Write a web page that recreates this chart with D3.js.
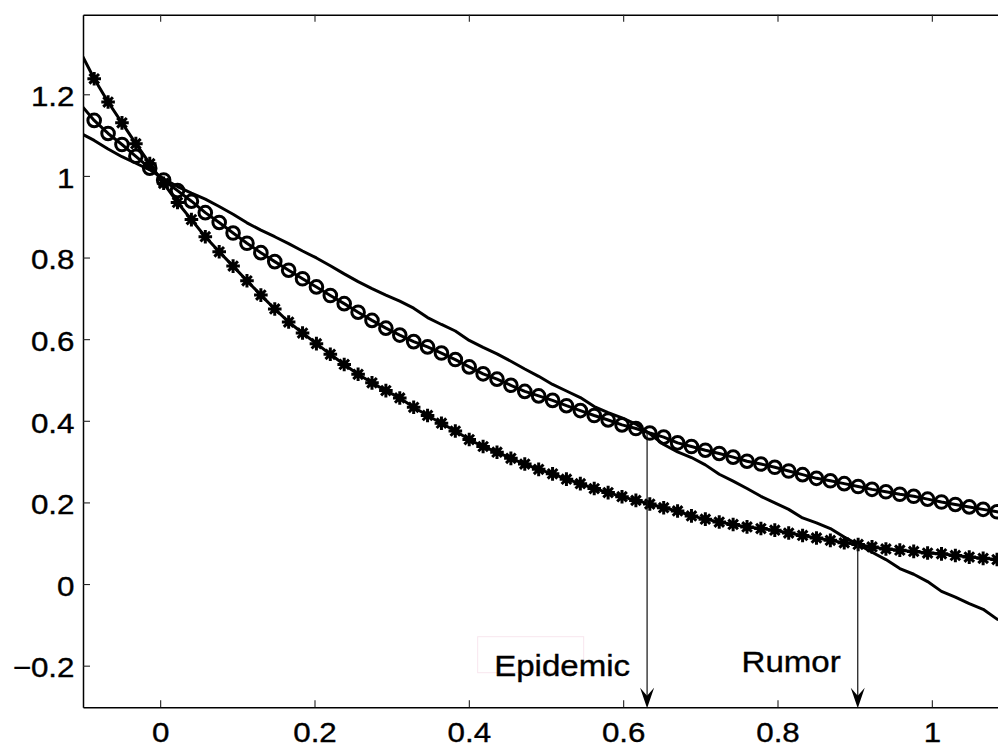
<!DOCTYPE html>
<html>
<head>
<meta charset="utf-8">
<script src="https://cdn.jsdelivr.net/npm/d3@7"></script>
<style>
  html, body { margin: 0; padding: 0; background: #fff; }
  svg { display: block; }
  .lbl {
    font-family: "Liberation Sans", Arial, Helvetica, sans-serif;
    fill: #000;
    stroke: #000;
    stroke-width: 0.35px;
    transform-box: fill-box;
  }
</style>
</head>
<body>
<svg id="chart" width="998" height="746"></svg>
<script>
// Sample positions shared by the three curves
const xValues = [
  -0.1035, -0.0855, -0.0675, -0.0495, -0.0315, -0.0135, 0.0045, 0.0225, 0.0405, 0.0585,
  0.0765, 0.0945, 0.1125, 0.1305, 0.1485, 0.1665, 0.1845, 0.2025, 0.2205, 0.2385,
  0.2565, 0.2745, 0.2925, 0.3105, 0.3285, 0.3465, 0.3645, 0.3825, 0.4005, 0.4185,
  0.4365, 0.4545, 0.4725, 0.4905, 0.5085, 0.5265, 0.5445, 0.5625, 0.5805, 0.5985,
  0.6165, 0.6345, 0.6525, 0.6705, 0.6885, 0.7065, 0.7245, 0.7425, 0.7605, 0.7785,
  0.7965, 0.8145, 0.8325, 0.8505, 0.8685, 0.8865, 0.9045, 0.9225, 0.9405, 0.9585,
  0.9765, 0.9945, 1.0125, 1.0305, 1.0485, 1.0665, 1.0845, 1.1025
];

// Plain solid curve
const solidValues = [
  1.105, 1.087, 1.066, 1.047, 1.031, 1.015, 0.993, 0.974, 0.958, 0.943,
  0.925, 0.906, 0.885, 0.867, 0.851, 0.834, 0.816, 0.799, 0.780, 0.760,
  0.741, 0.724, 0.708, 0.693, 0.676, 0.653, 0.636, 0.620, 0.597, 0.580,
  0.564, 0.546, 0.527, 0.509, 0.489, 0.473, 0.457, 0.435, 0.420, 0.407,
  0.392, 0.368, 0.342, 0.324, 0.310, 0.292, 0.269, 0.252, 0.234, 0.215,
  0.199, 0.183, 0.162, 0.150, 0.136, 0.115, 0.097, 0.078, 0.060, 0.038,
  0.024, 0.006, -0.018, -0.032, -0.048, -0.062, -0.086, -0.096
];

// Curve drawn with open circle markers
const circleValues = [
  1.176, 1.136, 1.104, 1.077, 1.048, 1.019, 0.990, 0.964, 0.938, 0.910,
  0.886, 0.860, 0.835, 0.812, 0.790, 0.769, 0.748, 0.728, 0.707, 0.687,
  0.666, 0.646, 0.627, 0.610, 0.594, 0.581, 0.566, 0.550, 0.532, 0.515,
  0.502, 0.487, 0.472, 0.461, 0.450, 0.437, 0.425, 0.413, 0.402, 0.390,
  0.381, 0.370, 0.360, 0.346, 0.337, 0.328, 0.320, 0.311, 0.301, 0.294,
  0.286, 0.277, 0.268, 0.259, 0.253, 0.246, 0.239, 0.232, 0.226, 0.220,
  0.215, 0.208, 0.201, 0.195, 0.189, 0.183, 0.177, 0.171
];

// Curve drawn with asterisk markers
const starValues = [
  1.304, 1.238, 1.181, 1.130, 1.079, 1.030, 0.982, 0.935, 0.893, 0.851,
  0.814, 0.779, 0.743, 0.708, 0.674, 0.642, 0.615, 0.589, 0.563, 0.538,
  0.514, 0.493, 0.474, 0.456, 0.433, 0.413, 0.394, 0.375, 0.354, 0.337,
  0.323, 0.308, 0.294, 0.281, 0.270, 0.257, 0.246, 0.234, 0.224, 0.214,
  0.205, 0.196, 0.187, 0.179, 0.167, 0.159, 0.152, 0.146, 0.140, 0.136,
  0.132, 0.125, 0.119, 0.113, 0.107, 0.101, 0.097, 0.091, 0.086, 0.083,
  0.080, 0.076, 0.074, 0.070, 0.066, 0.063, 0.060, 0.057
];

const xTicks = [0, 0.2, 0.4, 0.6, 0.8, 1];
const xTickLabels = ["0", "0.2", "0.4", "0.6", "0.8", "1"];
const yTicks = [-0.2, 0, 0.2, 0.4, 0.6, 0.8, 1, 1.2];
const yTickLabels = ["\u22120.2", "0", "0.2", "0.4", "0.6", "0.8", "1", "1.2"];

// Threshold annotations: label, x of the crossing, y of the crossing
const markerLabels = ["Epidemic", "Rumor"];
const markerX = [0.631, 0.904];
const markerY = [0.372, 0.097];

// ---- layout ----
const plot = { left: 83, top: 14.7, right: 1009, bottom: 707.3 };
const x = d3.scaleLinear().domain([-0.1, 1.1]).range([plot.left, plot.right]);
const y = d3.scaleLinear().domain([-0.302, 1.395]).range([plot.bottom, plot.top]);

const svg = d3.select("#chart");

svg.append("defs").append("clipPath").attr("id", "plotClip")
  .append("rect")
  .attr("x", plot.left).attr("y", plot.top)
  .attr("width", plot.right - plot.left).attr("height", plot.bottom - plot.top);

// ---- axes (box with inward ticks) ----
const tickLen = 7;
const fmtX = (d, i) => xTickLabels[i];
const fmtY = (d, i) => yTickLabels[i];

const axB = svg.append("g").attr("transform", `translate(0,${plot.bottom})`)
  .call(d3.axisBottom(x).tickValues(xTicks).tickFormat(fmtX).tickSizeInner(-tickLen).tickSizeOuter(0));
const axT = svg.append("g").attr("transform", `translate(0,${plot.top})`)
  .call(d3.axisTop(x).tickValues(xTicks).tickFormat("").tickSizeInner(-tickLen).tickSizeOuter(0));
const axL = svg.append("g").attr("transform", `translate(${plot.left},0)`)
  .call(d3.axisLeft(y).tickValues(yTicks).tickFormat(fmtY).tickSizeInner(-tickLen).tickSizeOuter(0));
const axR = svg.append("g").attr("transform", `translate(${plot.right},0)`)
  .call(d3.axisRight(y).tickValues(yTicks).tickFormat("").tickSizeInner(-tickLen).tickSizeOuter(0));

[axB, axT, axL, axR].forEach(g => {
  g.select(".domain").attr("stroke", "#000").attr("stroke-width", 1.5);
  g.selectAll(".tick line").attr("stroke", "#222").attr("stroke-width", 1.1);
});

axB.selectAll(".tick text")
  .attr("class", "lbl")
  .attr("y", 35).attr("dy", null)
  .attr("font-size", 27.5)
  .style("transform-origin", "50% 50%")
  .style("transform", "scaleX(1.14)");

axL.selectAll(".tick text")
  .attr("class", "lbl")
  .attr("x", -8.5).attr("dy", "0.41em")
  .attr("font-size", 27.5)
  .style("transform-origin", "100% 50%")
  .style("transform", "scaleX(1.14)");

// ---- curves ----
const curves = svg.append("g").attr("clip-path", "url(#plotClip)");
const line = vals => d3.line()
  .x((d, i) => x(xValues[i]))
  .y(d => y(d))(vals);

const lineStyle = sel => sel.attr("fill", "none").attr("stroke", "#000")
  .attr("stroke-width", 3).attr("stroke-linejoin", "round");

curves.append("path").attr("d", line(solidValues)).call(lineStyle);
curves.append("path").attr("d", line(circleValues)).call(lineStyle);
curves.append("path").attr("d", line(starValues)).call(lineStyle);

const inDomain = i => xValues[i] >= -0.1 && xValues[i] <= 1.1;
const idx = d3.range(xValues.length).filter(inDomain);

// open circle markers
curves.append("g").selectAll("circle").data(idx).join("circle")
  .attr("cx", i => x(xValues[i]))
  .attr("cy", i => y(circleValues[i]))
  .attr("r", 6.3)
  .attr("fill", "none").attr("stroke", "#000").attr("stroke-width", 3);

// asterisk markers
const a = 6.8, b = a * Math.SQRT1_2;
const starPath = `M${-a},0L${a},0M0,${-a}L0,${a}M${-b},${-b}L${b},${b}M${-b},${b}L${b},${-b}`;
curves.append("g").selectAll("g").data(idx).join("g")
  .attr("transform", i => `translate(${x(xValues[i])},${y(starValues[i])})`)
  .call(g => g.append("circle").attr("r", 3.6).attr("fill", "#000"))
  .call(g => g.append("path").attr("d", starPath)
    .attr("fill", "none").attr("stroke", "#000").attr("stroke-width", 3));

// ---- threshold arrows ----
const labelLift = [31.3, 35];
const ann = svg.append("g");

// faint text-box outline around the first label
{
  const px = x(markerX[0]);
  ann.append("rect")
    .attr("x", px - 169.4).attr("y", plot.bottom - 70.6)
    .attr("width", 106).attr("height", 36)
    .attr("fill", "none").attr("stroke", "#f8e6ee").attr("stroke-width", 1);
}

markerLabels.forEach((lab, i) => {
  const px = x(markerX[i]);
  const tipY = plot.bottom + 1;
  ann.append("line")
    .attr("x1", px).attr("x2", px)
    .attr("y1", y(markerY[i])).attr("y2", tipY - 10)
    .attr("stroke", "#111").attr("stroke-width", 1.2);
  ann.append("path")
    .attr("d", `M${px},${tipY}L${px - 7},${tipY - 20.5}L${px},${tipY - 12.5}L${px + 7},${tipY - 20.5}Z`)
    .attr("fill", "#000");
  ann.append("text")
    .attr("class", "lbl")
    .attr("x", px - 17).attr("y", plot.bottom - labelLift[i])
    .attr("text-anchor", "end")
    .attr("font-size", 29)
    .style("transform-origin", "100% 50%")
    .style("transform", "scaleX(1.14)")
    .text(lab);
});
</script>
</body>
</html>
